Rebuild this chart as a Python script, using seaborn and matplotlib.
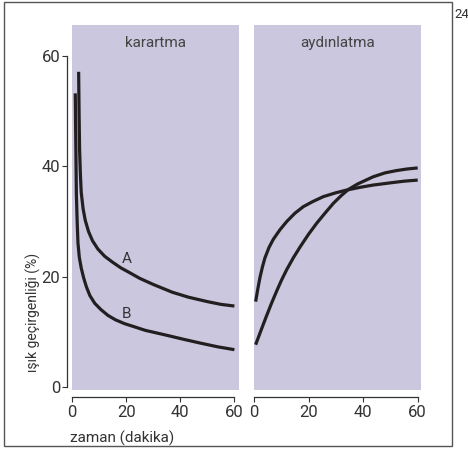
import matplotlib
matplotlib.use("Agg")
import matplotlib.pyplot as plt
from matplotlib.patches import Rectangle
import seaborn as sns

# ---- data ----
panel_titles = ["karartma", "aydınlatma"]
x_ticks = [0, 20, 40, 60]
y_ticks = [0, 20, 40, 60]

dark_A_t = [2.35, 2.5, 2.7, 3.0, 3.3, 4.0, 4.8, 6.0, 7.5, 9.5, 12, 15, 18, 21, 25, 30, 37, 43, 50, 55, 60]
dark_A_y = [57.1, 50, 43, 38.5, 35.3, 32.3, 30.2, 28.2, 26.5, 25.0, 23.7, 22.6, 21.6, 20.8, 19.7, 18.6, 17.2, 16.3, 15.5, 15.0, 14.7]

dark_B_t = [1.1, 1.3, 1.5, 1.8, 2.1, 2.6, 3.3, 4.2, 5.2, 6.5, 8.3, 10.5, 13.2, 16, 19.4, 22.6, 27, 35, 41, 47.3, 54, 60]
dark_B_y = [53.2, 44, 35.1, 30, 26.1, 23.5, 21.6, 19.8, 18.2, 16.6, 15.2, 14.1, 13.0, 12.2, 11.5, 11.0, 10.3, 9.4, 8.7, 8.0, 7.3, 6.8]

light_1_t = [0.6, 1.4, 2.2, 3.1, 4.0, 5.5, 7.1, 9.5, 12, 15, 18.1, 21.5, 25.4, 30, 34, 39, 43.7, 50, 55, 60]
light_1_y = [15.5, 17.8, 19.9, 21.8, 23.4, 25.3, 26.8, 28.5, 30.0, 31.5, 32.7, 33.6, 34.5, 35.2, 35.7, 36.2, 36.6, 37.0, 37.3, 37.5]

light_2_t = [0.6, 2.5, 4.5, 6.5, 8.3, 10, 12, 14.5, 16.9, 20, 23, 26, 29.1, 32, 34.6, 38, 43.7, 48, 52, 56, 60]
light_2_y = [7.7, 10.2, 12.8, 15.3, 17.4, 19.3, 21.3, 23.5, 25.4, 27.7, 29.7, 31.5, 33.3, 34.7, 35.8, 36.8, 38.1, 38.8, 39.2, 39.5, 39.7]

curve_labels = ["A", "B"]
curve_label_pos = [(20, 23.3), (20, 13.3)]

# ---- style ----
sns.set_theme(style="white")
plt.rcParams["font.family"] = ["Roboto", "DejaVu Sans"]

BG = "#cac7de"
LINE = "#231f20"
TXT = "#333333"

W, H = 468, 449
fig = plt.figure(figsize=(W / 100, H / 100), dpi=100)

bottom = (H - 390) / H
height = (390 - 25.4) / H
ax1 = fig.add_axes([72.3 / W, bottom, (239.0 - 72.3) / W, height])
ax2 = fig.add_axes([254.0 / W, bottom, (421.5 - 254.0) / W, height])

for ax, title in zip((ax1, ax2), panel_titles):
    ax.set_facecolor(BG)
    ax.set_ylim(-0.5, 65.5)
    ax.text(0.5, 0.953, title, transform=ax.transAxes, ha="center", va="center",
            fontsize=11, color="#444444")
    for s in ("top", "right"):
        ax.spines[s].set_visible(False)
    ax.spines["bottom"].set_position(("outward", 5))
    ax.spines["bottom"].set_bounds(0, 60)
    ax.spines["bottom"].set_color("#333333")
    ax.spines["bottom"].set_linewidth(0.9)
    ax.set_xticks(x_ticks)
    ax.tick_params(axis="x", bottom=True, length=3.6, width=0.8, color="#333333",
                   labelsize=12, labelcolor=TXT, pad=2)
    ax.set_xlabel("")
    ax.set_ylabel("")

ax1.set_xlim(0, 61.7)
ax2.set_xlim(0, 61.4)

ax1.spines["left"].set_position(("outward", 4))
ax1.spines["left"].set_bounds(0, 60)
ax1.spines["left"].set_color("#333333")
ax1.spines["left"].set_linewidth(0.9)
ax1.set_yticks(y_ticks)
ax1.tick_params(axis="y", left=True, length=3.6, width=0.8, color="#333333",
                labelsize=12, labelcolor=TXT, pad=1)
ax2.spines["left"].set_visible(False)
ax2.set_yticks([])

lw = 2.3
for t, y, ax in ((dark_A_t, dark_A_y, ax1), (dark_B_t, dark_B_y, ax1),
                 (light_1_t, light_1_y, ax2), (light_2_t, light_2_y, ax2)):
    sns.lineplot(x=t, y=y, ax=ax, color=LINE, linewidth=lw, sort=False,
                 estimator=None, solid_capstyle="butt")

for lab, (lx, ly) in zip(curve_labels, curve_label_pos):
    ax1.text(lx, ly, lab, ha="center", va="center", fontsize=11, color=TXT)

fig.text(70 / W, (H - 438) / H, "zaman (dakika)", ha="left", va="center",
         fontsize=11, color=TXT)
fig.text(33 / W, (H - 372) / H, "ışık geçirgenliği (%)", rotation=90,
         ha="center", va="bottom", fontsize=10, color=TXT)

fig.patches.append(Rectangle((4 / W, 3 / H), 448 / W, 444 / H, transform=fig.transFigure,
                             fill=False, edgecolor="#555555", linewidth=1.0))
fig.text(454.5 / W, (H - 14) / H, "24", ha="left", va="center", fontsize=9.5, color=TXT)

fig.savefig("out.png", dpi=100)
